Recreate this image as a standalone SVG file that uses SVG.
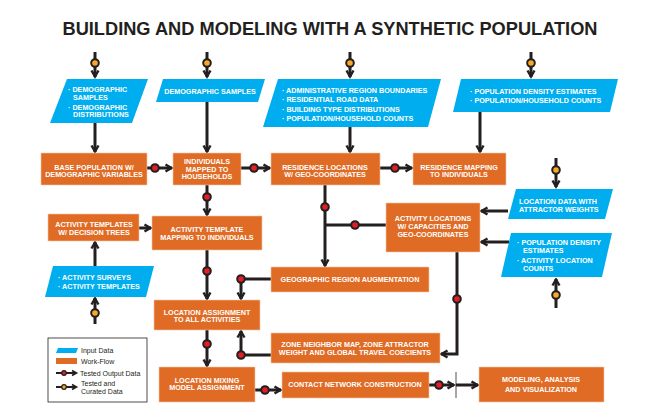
<svg xmlns="http://www.w3.org/2000/svg" width="650" height="418" viewBox="0 0 650 418">
<defs>
<style>
.n{fill:#e06b25;stroke:#f3c7a8;stroke-width:0.6}
.d{fill:#00aeef}
.t{font-family:"Liberation Sans",Arial,sans-serif;font-weight:bold;font-size:7.2px;fill:#fff;text-anchor:middle}
.tb{font-family:"Liberation Sans",Arial,sans-serif;font-weight:bold;font-size:7.2px;fill:#fff}
.c{fill:none;stroke:#231f20;stroke-width:3}
.a{fill:none;stroke:#231f20;stroke-width:3;marker-end:url(#arr)}
.r{fill:#e31e24;stroke:#231f20;stroke-width:2}
.y{fill:#f9a825;stroke:#231f20;stroke-width:2}
.lg{font-family:"Liberation Sans",Arial,sans-serif;font-size:7px;fill:#231f20}
</style>
<marker id="arr" viewBox="0 0 10 10" refX="8.5" refY="5" markerWidth="10" markerHeight="10" markerUnits="userSpaceOnUse" orient="auto">
<path d="M2,1.5 L8,5 L2,8.5" fill="none" stroke="#231f20" stroke-width="2.4"/>
</marker>
</defs>
<rect width="650" height="418" fill="#fff"/>
<text x="330" y="35" font-family="'Liberation Sans',Arial,sans-serif" font-weight="bold" font-size="19" fill="#231f20" text-anchor="middle" textLength="535" lengthAdjust="spacingAndGlyphs">BUILDING AND MODELING WITH A SYNTHETIC POPULATION</text>

<g id="connectors">
<line class="a" x1="95" y1="52" x2="95" y2="77"/><circle class="y" cx="95" cy="63" r="3.8"/>
<line class="a" x1="207" y1="52" x2="207" y2="77"/><circle class="y" cx="207" cy="63" r="3.8"/>
<line class="a" x1="350" y1="52" x2="350" y2="77"/><circle class="y" cx="350" cy="63" r="3.8"/>
<line class="a" x1="531" y1="52" x2="531" y2="77"/><circle class="y" cx="531" cy="63" r="3.8"/>
<line class="a" x1="556" y1="158" x2="556" y2="187"/><circle class="y" cx="556" cy="170" r="3.8"/>
<line class="a" x1="556" y1="308" x2="556" y2="279"/><circle class="y" cx="556" cy="295" r="3.8"/>
<line class="a" x1="95" y1="324" x2="95" y2="298"/><circle class="y" cx="95" cy="313" r="3.8"/>
<line class="a" x1="95" y1="123" x2="95" y2="152"/>
<line class="a" x1="207" y1="102" x2="207" y2="152"/>
<line class="a" x1="350" y1="127" x2="350" y2="152"/>
<line class="a" x1="480" y1="112" x2="480" y2="152"/>
<line class="a" x1="95" y1="266" x2="95" y2="242"/>
<line class="a" x1="508" y1="211" x2="481" y2="211"/>
<line class="a" x1="509" y1="242" x2="481" y2="242"/>
<line class="a" x1="147" y1="168" x2="172" y2="168"/><circle class="r" cx="155" cy="168" r="3.8"/>
<line class="a" x1="241" y1="168" x2="270" y2="168"/><circle class="r" cx="254" cy="168" r="3.8"/>
<line class="a" x1="380" y1="168" x2="412" y2="168"/><circle class="r" cx="395" cy="168" r="3.8"/>
<line class="a" x1="207" y1="185" x2="207" y2="215"/><circle class="r" cx="207" cy="197" r="3.8"/>
<line class="a" x1="139" y1="228" x2="151" y2="228"/>
<line class="a" x1="207" y1="250" x2="207" y2="299"/><circle class="r" cx="207" cy="271" r="3.8"/>
<line class="a" x1="325" y1="185" x2="325" y2="266"/><circle class="r" cx="325" cy="207" r="3.8"/>
<line class="c" x1="386" y1="225" x2="325" y2="225"/><circle class="r" cx="355" cy="225" r="3.8"/>
<path class="a" d="M271,279 H241 V299"/><circle class="r" cx="241" cy="279" r="3.8"/>
<line class="a" x1="207" y1="330" x2="207" y2="366"/><circle class="r" cx="207" cy="344" r="3.8"/>
<path class="a" d="M271,355 H241 V331"/><circle class="r" cx="241" cy="355" r="3.8"/>
<path class="a" d="M457,252 V354 H441"/><circle class="r" cx="457" cy="299" r="3.8"/>
<line class="a" x1="255" y1="390" x2="281" y2="390"/><circle class="r" cx="265" cy="390" r="3.8"/>
<line class="a" x1="429" y1="385" x2="454" y2="385"/><circle class="r" cx="439" cy="385" r="3.8"/>
<line x1="456" y1="372" x2="456" y2="398" stroke="#231f20" stroke-width="0.8"/>
<line class="a" x1="456" y1="385" x2="478" y2="385"/>
</g>

<g id="in-demographics">
<polygon class="d" points="67,79 148,79 132,123 50,123"/>
<text class="tb" x="68" y="92" font-size="6.2">· DEMOGRAPHIC</text>
<text class="tb" x="73" y="99.5" font-size="6.2">SAMPLES</text>
<text class="tb" x="68" y="109.5" font-size="6.2">· DEMOGRAPHIC</text>
<text class="tb" x="73" y="117" font-size="6.2">DISTRIBUTIONS</text>
</g>
<g id="in-demosamples">
<polygon class="d" points="163,79 265,79 258,102 156,102"/>
<text class="t" x="210" y="93.5">DEMOGRAPHIC SAMPLES</text>
</g>
<g id="in-admin">
<polygon class="d" points="278,79 441,79 428,127 263,127"/>
<text class="tb" x="282" y="92.5">· ADMINISTRATIVE REGION BOUNDARIES</text>
<text class="tb" x="282" y="101.5">· RESIDENTIAL ROAD DATA</text>
<text class="tb" x="282" y="111.5">· BUILDING TYPE DISTRIBUTIONS</text>
<text class="tb" x="282" y="120.5">· POPULATION/HOUSEHOLD COUNTS</text>
</g>
<g id="in-popdensity">
<polygon class="d" points="461,79 618,79 610,112 453,112"/>
<text class="tb" x="470" y="93.5">· POPULATION DENSITY ESTIMATES</text>
<text class="tb" x="470" y="102.5">· POPULATION/HOUSEHOLD COUNTS</text>
</g>
<g id="in-locdata">
<polygon class="d" points="516,189 613,189 605,219 508,219"/>
<text class="tb" x="519" y="203.5" font-size="6.6">LOCATION DATA WITH</text>
<text class="tb" x="519" y="211.5" font-size="6.6">ATTRACTOR WEIGHTS</text>
</g>
<g id="in-actcounts">
<polygon class="d" points="511,233 612,233 602,277 501,277"/>
<text class="tb" x="517" y="245" font-size="6.2">· POPULATION DENSITY</text>
<text class="tb" x="523" y="252.5" font-size="6.2">ESTIMATES</text>
<text class="tb" x="517" y="263" font-size="6.2">· ACTIVITY LOCATION</text>
<text class="tb" x="523" y="270.5" font-size="6.2">COUNTS</text>
</g>
<g id="in-actsurveys">
<polygon class="d" points="53,266 154,266 146,297 45,297"/>
<text class="tb" x="58" y="279.5">· ACTIVITY SURVEYS</text>
<text class="tb" x="58" y="288.5">· ACTIVITY TEMPLATES</text>
</g>

<g id="n-basepop">
<rect class="n" x="41" y="153" width="106" height="32"/>
<text class="t" x="94" y="169.5">BASE POPULATION W/</text>
<text class="t" x="94" y="177">DEMOGRAPHIC VARIABLES</text>
</g>
<g id="n-individuals">
<rect class="n" x="173" y="153" width="68" height="32"/>
<text class="t" x="207" y="164" font-size="6.2">INDIVIDUALS</text>
<text class="t" x="207" y="171.5" font-size="6.2">MAPPED TO</text>
<text class="t" x="207" y="179" font-size="6.2">HOUSEHOLDS</text>
</g>
<g id="n-residence">
<rect class="n" x="271" y="153" width="109" height="32"/>
<text class="t" x="325" y="169.5">RESIDENCE LOCATIONS</text>
<text class="t" x="325" y="177">W/ GEO-COORDINATES</text>
</g>
<g id="n-resmapping">
<rect class="n" x="413" y="153" width="93" height="32"/>
<text class="t" x="459" y="169.5">RESIDENCE MAPPING</text>
<text class="t" x="459" y="177">TO INDIVIDUALS</text>
</g>
<g id="n-acttemplates">
<rect class="n" x="48" y="214" width="91" height="27"/>
<text class="t" x="94" y="226.5">ACTIVITY TEMPLATES</text>
<text class="t" x="94" y="235">W/ DECISION TREES</text>
</g>
<g id="n-actmapping">
<rect class="n" x="152" y="216" width="110" height="34"/>
<text class="t" x="207" y="231.5">ACTIVITY TEMPLATE</text>
<text class="t" x="207" y="239.5">MAPPING TO INDIVIDUALS</text>
</g>
<g id="n-actlocations">
<rect class="n" x="386" y="203" width="94" height="49"/>
<text class="t" x="433" y="220.5">ACTIVITY LOCATIONS</text>
<text class="t" x="433" y="228.5">W/ CAPACITIES AND</text>
<text class="t" x="433" y="236.5">GEO-COORDINATES</text>
</g>
<g id="n-georegion">
<rect class="n" x="271" y="267" width="158" height="25"/>
<text class="t" x="350" y="282">GEOGRAPHIC REGION AUGMENTATION</text>
</g>
<g id="n-locassign">
<rect class="n" x="154" y="300" width="106" height="30"/>
<text class="t" x="207" y="314.5">LOCATION ASSIGNMENT</text>
<text class="t" x="207" y="322">TO ALL ACTIVITIES</text>
</g>
<g id="n-zone">
<rect class="n" x="271" y="333" width="169" height="30"/>
<text class="t" x="355" y="346.5">ZONE NEIGHBOR MAP, ZONE ATTRACTOR</text>
<text class="t" x="355" y="354.5">WEIGHT AND GLOBAL TRAVEL COECIENTS</text>
</g>
<g id="n-locmixing">
<rect class="n" x="159" y="367" width="96" height="35"/>
<text class="t" x="207" y="382.5">LOCATION MIXING</text>
<text class="t" x="207" y="390">MODEL ASSIGNMENT</text>
</g>
<g id="n-contact">
<rect class="n" x="282" y="372" width="147" height="26"/>
<text class="t" x="355" y="387">CONTACT NETWORK CONSTRUCTION</text>
</g>
<g id="n-modeling">
<rect class="n" x="479" y="367" width="125" height="35"/>
<text class="t" x="541" y="381.5">MODELING, ANALYSIS</text>
<text class="t" x="541" y="391.5">AND VISUALIZATION</text>
</g>

<g id="legend">
<rect x="48" y="338" width="99" height="64" fill="#fff" stroke="#231f20" stroke-width="0.8"/>
<polygon class="d" points="58,348 78,348 76,353 56,353"/>
<text class="lg" x="81" y="353">Input Data</text>
<rect x="56" y="358" width="21" height="6" fill="#e06b25"/>
<text class="lg" x="81" y="364">Work-Flow</text>
<line x1="56" y1="373" x2="76" y2="373" stroke="#231f20" stroke-width="2"/>
<path d="M72,370.5 L76.5,373 L72,375.5" fill="none" stroke="#231f20" stroke-width="1.6"/>
<circle cx="64" cy="373" r="2.3" fill="#e31e24" stroke="#231f20" stroke-width="1.2"/>
<text class="lg" x="80" y="375.5">Tested Output Data</text>
<line x1="56" y1="387" x2="76" y2="387" stroke="#231f20" stroke-width="2"/>
<path d="M72,384.5 L76.5,387 L72,389.5" fill="none" stroke="#231f20" stroke-width="1.6"/>
<circle cx="64" cy="387" r="2.3" fill="#f9a825" stroke="#231f20" stroke-width="1.2"/>
<text class="lg" x="81" y="386">Tested and</text>
<text class="lg" x="81" y="394">Curated Data</text>
</g>
</svg>
